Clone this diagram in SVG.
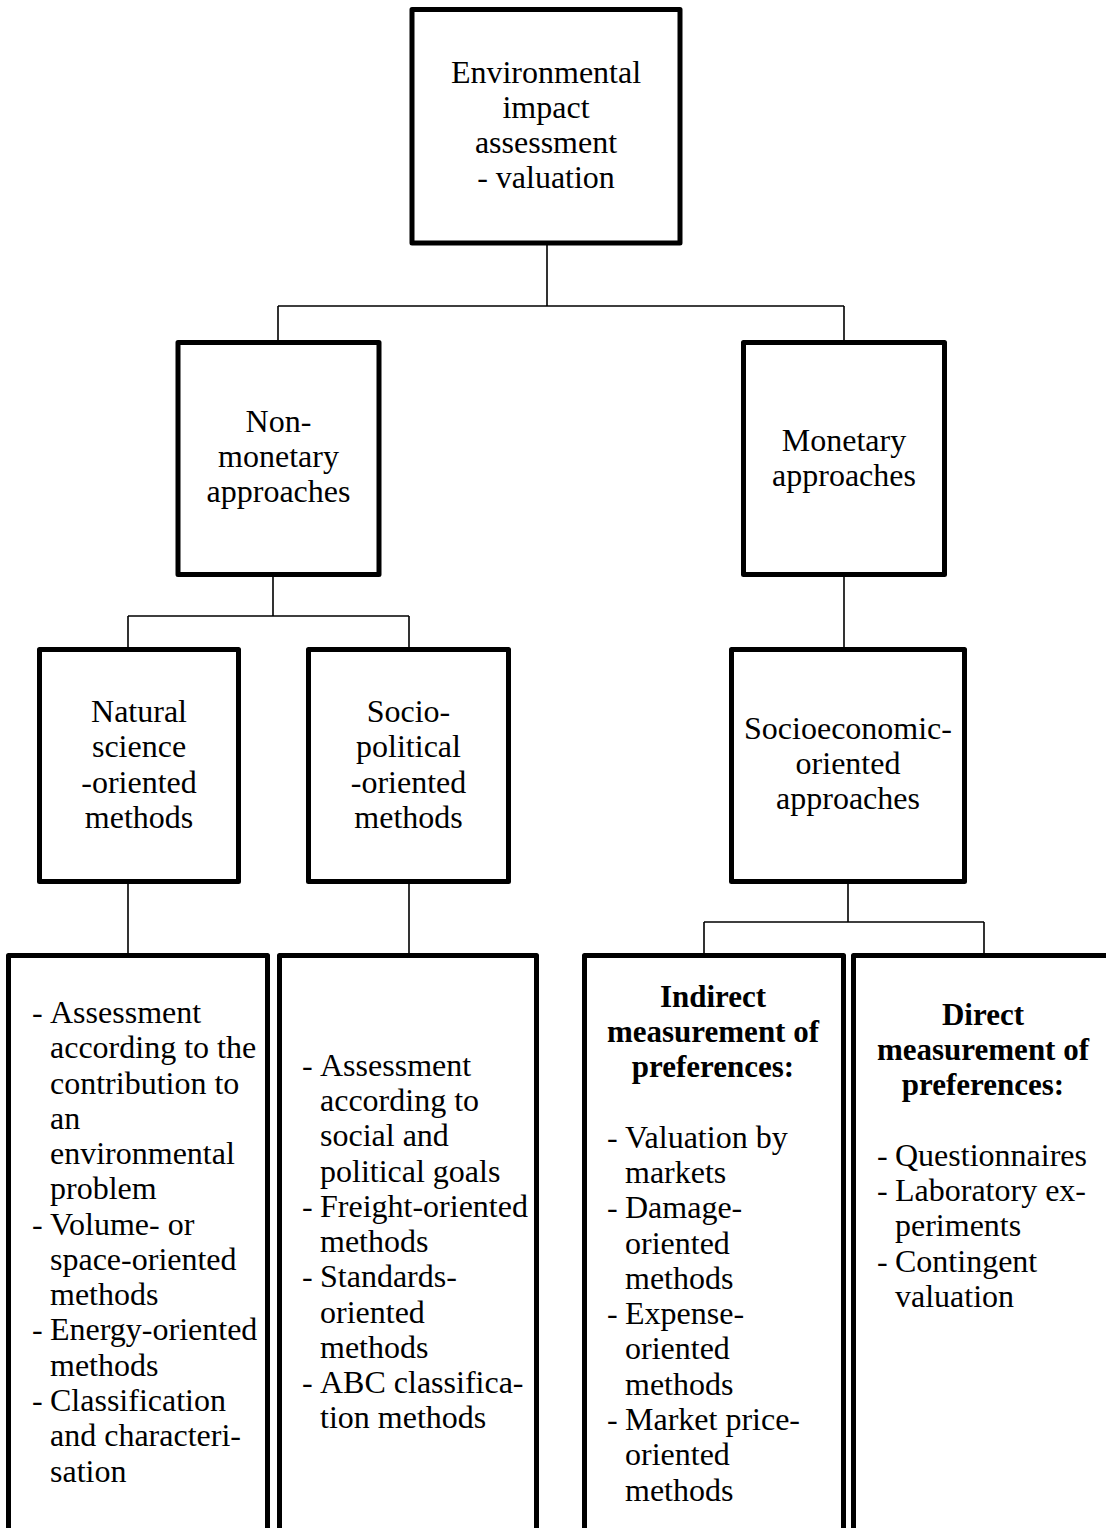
<svg xmlns="http://www.w3.org/2000/svg" width="1106" height="1528" viewBox="0 0 1106 1528">
<style>
.box{fill:#fff;stroke:#000;stroke-width:5;stroke-linejoin:round}
.con{fill:none;stroke:#000;stroke-width:1.6}
text{font-family:"Liberation Serif","Times New Roman",serif;font-size:32px;fill:#000}
.c{text-anchor:middle}
.b{font-weight:bold;font-size:31px}
</style>
<rect width="1106" height="1528" fill="#fff"/>
<g id="connectors">
<path class="con" d="M547 244 V306 M278 306 H844 M278 306 V341 M844 306 V341"/>
<path class="con" d="M273 576 V616 M128 616 H409 M128 616 V649 M409 616 V649"/>
<path class="con" d="M844 576 V649"/>
<path class="con" d="M128 882 V955 M409 882 V955"/>
<path class="con" d="M848 882 V922 M704 922 H984 M704 922 V955 M984 922 V955"/>
</g>
<g id="n-root">
<rect class="box" x="412" y="9.5" width="268" height="233.5"/>
<text class="c" x="546" y="83">Environmental</text>
<text class="c" x="546" y="118">impact</text>
<text class="c" x="546" y="153">assessment</text>
<text class="c" x="546" y="188">- valuation</text>
</g>
<g id="n-nonmonetary">
<rect class="box" x="178" y="342.5" width="201" height="232"/>
<text class="c" x="278.5" y="432">Non-</text>
<text class="c" x="278.5" y="467">monetary</text>
<text class="c" x="278.5" y="502">approaches</text>
</g>
<g id="n-monetary">
<rect class="box" x="743.5" y="342.5" width="201" height="232"/>
<text class="c" x="844" y="451">Monetary</text>
<text class="c" x="844" y="486">approaches</text>
</g>
<g id="n-natural">
<rect class="box" x="39.5" y="649.5" width="199" height="232"/>
<text class="c" x="139" y="722">Natural</text>
<text class="c" x="139" y="757">science</text>
<text class="c" x="139" y="793">-oriented</text>
<text class="c" x="139" y="828">methods</text>
</g>
<g id="n-sociopolitical">
<rect class="box" x="308.5" y="649.5" width="200" height="232"/>
<text class="c" x="408.5" y="722">Socio-</text>
<text class="c" x="408.5" y="757">political</text>
<text class="c" x="408.5" y="793">-oriented</text>
<text class="c" x="408.5" y="828">methods</text>
</g>
<g id="n-socioeconomic">
<rect class="box" x="731.5" y="649.5" width="233" height="232"/>
<text class="c" x="848" y="739">Socioeconomic-</text>
<text class="c" x="848" y="774">oriented</text>
<text class="c" x="848" y="809">approaches</text>
</g>
<g id="n-natural-list">
<rect class="box" x="8.5" y="955.5" width="259" height="620"/>
<text x="32" y="1023">-</text><text x="50" y="1023">Assessment</text>
<text x="50" y="1058">according to the</text>
<text x="50" y="1094">contribution to</text>
<text x="50" y="1129">an</text>
<text x="50" y="1164">environmental</text>
<text x="50" y="1199">problem</text>
<text x="32" y="1235">-</text><text x="50" y="1235">Volume- or</text>
<text x="50" y="1270">space-oriented</text>
<text x="50" y="1305">methods</text>
<text x="32" y="1340">-</text><text x="50" y="1340">Energy-oriented</text>
<text x="50" y="1376">methods</text>
<text x="32" y="1411">-</text><text x="50" y="1411">Classification</text>
<text x="50" y="1446">and characteri-</text>
<text x="50" y="1482">sation</text>
</g>
<g id="n-sociopolitical-list">
<rect class="box" x="279.5" y="955.5" width="257" height="620"/>
<text x="302" y="1076">-</text><text x="320" y="1076">Assessment</text>
<text x="320" y="1111">according to</text>
<text x="320" y="1146">social and</text>
<text x="320" y="1182">political goals</text>
<text x="302" y="1217">-</text><text x="320" y="1217">Freight-oriented</text>
<text x="320" y="1252">methods</text>
<text x="302" y="1287">-</text><text x="320" y="1287">Standards-</text>
<text x="320" y="1323">oriented</text>
<text x="320" y="1358">methods</text>
<text x="302" y="1393">-</text><text x="320" y="1393">ABC classifica-</text>
<text x="320" y="1428">tion methods</text>
</g>
<g id="n-indirect">
<rect class="box" x="584.5" y="955.5" width="259" height="620"/>
<text class="c b" x="713" y="1007">Indirect</text>
<text class="c b" x="713" y="1042">measurement of</text>
<text class="c b" x="713" y="1077">preferences:</text>
<text x="607" y="1148">-</text><text x="625" y="1148">Valuation by</text>
<text x="625" y="1183">markets</text>
<text x="607" y="1218">-</text><text x="625" y="1218">Damage-</text>
<text x="625" y="1254">oriented</text>
<text x="625" y="1289">methods</text>
<text x="607" y="1324">-</text><text x="625" y="1324">Expense-</text>
<text x="625" y="1359">oriented</text>
<text x="625" y="1395">methods</text>
<text x="607" y="1430">-</text><text x="625" y="1430">Market price-</text>
<text x="625" y="1465">oriented</text>
<text x="625" y="1501">methods</text>
</g>
<g id="n-direct">
<rect class="box" x="853.5" y="955.5" width="259" height="620"/>
<text class="c b" x="983" y="1025">Direct</text>
<text class="c b" x="983" y="1060">measurement of</text>
<text class="c b" x="983" y="1095">preferences:</text>
<text x="877" y="1166">-</text><text x="895" y="1166">Questionnaires</text>
<text x="877" y="1201">-</text><text x="895" y="1201">Laboratory ex-</text>
<text x="895" y="1236">periments</text>
<text x="877" y="1272">-</text><text x="895" y="1272">Contingent</text>
<text x="895" y="1307">valuation</text>
</g>
</svg>
